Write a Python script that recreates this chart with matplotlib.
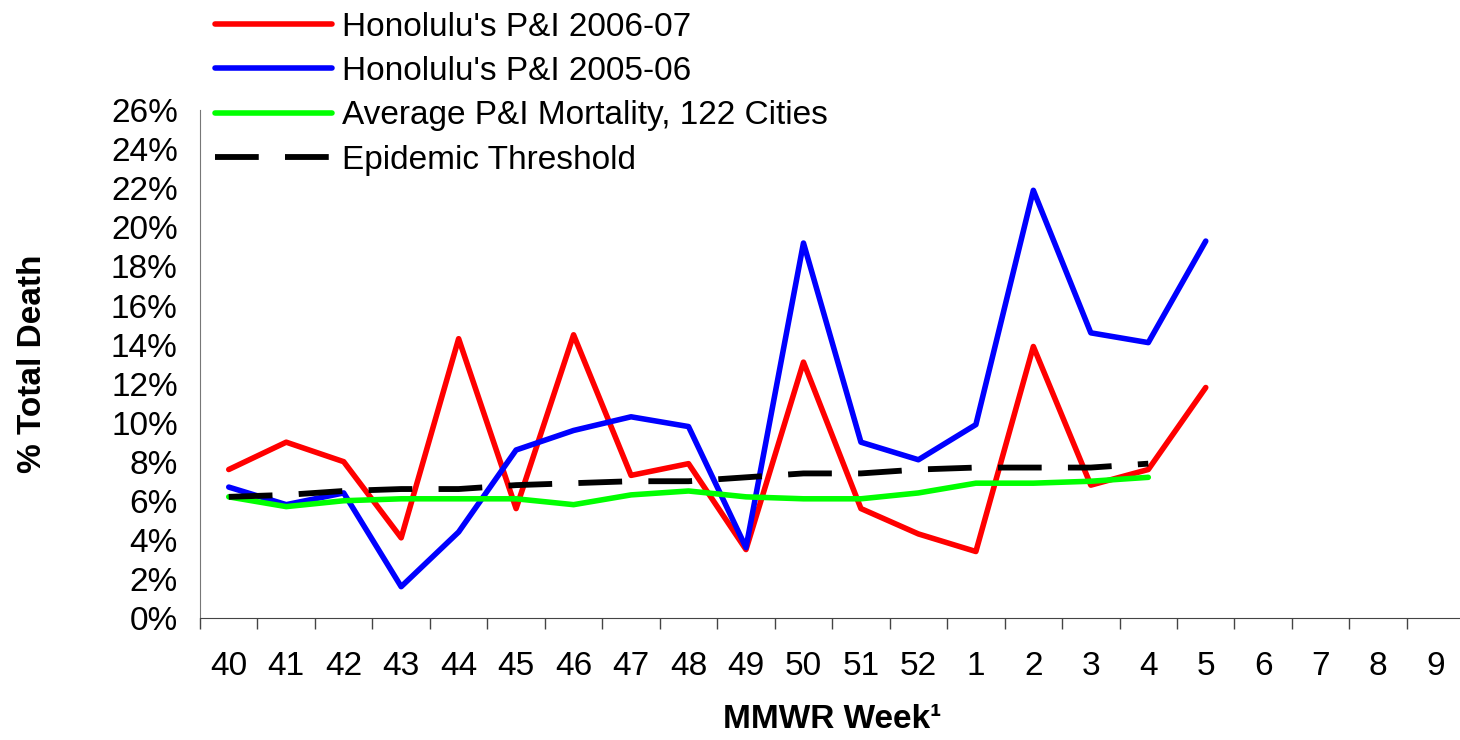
import numpy as np
import matplotlib
matplotlib.use("Agg")
import matplotlib.pyplot as plt

plt.rcParams['font.family'] = ['Liberation Sans', 'DejaVu Sans']

weeks = ["40", "41", "42", "43", "44", "45", "46", "47", "48", "49", "50",
         "51", "52", "1", "2", "3", "4", "5", "6", "7", "8", "9"]

hon_0607 = [7.6, 9.0, 8.0, 4.1, 14.3, 5.6, 14.5, 7.3, 7.9, 3.5, 13.1,
            5.6, 4.3, 3.4, 13.9, 6.8, 7.6, 11.8]
hon_0506 = [6.7, 5.8, 6.4, 1.6, 4.4, 8.6, 9.6, 10.3, 9.8, 3.6, 19.2,
            9.0, 8.1, 9.9, 21.9, 14.6, 14.1, 19.3]
avg_122 = [6.2, 5.7, 6.0, 6.1, 6.1, 6.1, 5.8, 6.3, 6.5, 6.2, 6.1,
           6.1, 6.4, 6.9, 6.9, 7.0, 7.2]
threshold = [6.2, 6.3, 6.5, 6.6, 6.6, 6.8, 6.9, 7.0, 7.0, 7.2, 7.4,
             7.4, 7.6, 7.7, 7.7, 7.7, 7.9]

fig = plt.figure(figsize=(14.6, 7.4), dpi=100)
ax = fig.add_axes([0.137, 0.165, 0.866, 0.686])

lw = 4.0
l1, = ax.plot(range(len(hon_0607)), hon_0607, color="#ff0000", lw=lw,
              solid_capstyle="round", label="Honolulu's P&I 2006-07")
l2, = ax.plot(range(len(hon_0506)), hon_0506, color="#0000ff", lw=lw,
              solid_capstyle="round", label="Honolulu's P&I 2005-06")
l3, = ax.plot(range(len(avg_122)), avg_122, color="#00ff00", lw=lw,
              solid_capstyle="round", label="Average P&I Mortality, 122 Cities")
l4, = ax.plot(range(len(threshold)), threshold, color="black", lw=4.2,
              dashes=(7.5, 4.5), label="Epidemic Threshold")

ax.set_xlim(-0.5, len(weeks) - 0.5)
ax.set_ylim(0, 26)
ax.set_yticks(np.arange(0, 27, 2))
ax.set_yticklabels([f"{v}%" for v in range(0, 27, 2)])
ax.set_xticks(range(len(weeks)))
ax.set_xticklabels(weeks)
ax.set_xticks(np.arange(-0.5, len(weeks), 1), minor=True)
ax.tick_params(axis='x', which='major', length=0, pad=24, labelsize=24)
ax.tick_params(axis='x', which='minor', length=8, width=1, color="#444444")
ax.tick_params(axis='y', length=0, pad=16, labelsize=24)

for s in ["top", "right"]:
    ax.spines[s].set_visible(False)
ax.spines["left"].set_color("#777777")
ax.spines["bottom"].set_color("#444444")

ax.set_xlabel("MMWR Week\u00b9", fontsize=24, fontweight="bold", va="center")
ax.xaxis.set_label_coords(0.5, -0.2)
ax.set_ylabel("% Total Death", fontsize=24, fontweight="bold")
ax.yaxis.set_label_coords(-0.12, 0.5)

fig.legend(handles=[l1, l2, l3, l4], loc="upper left",
           bbox_to_anchor=(0.127, 1.025), frameon=False, fontsize=24,
           handlelength=3.5, handletextpad=0.3, labelspacing=0.4)

fig.savefig("out.png", dpi=100)
